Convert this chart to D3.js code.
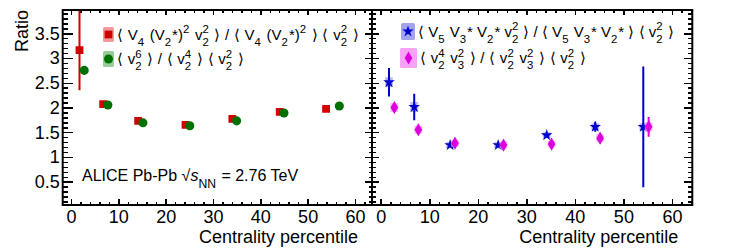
<!DOCTYPE html>
<html lang="en">
<head>
  <meta charset="UTF-8">
  <title>Ratio vs centrality</title>
  <script src="https://cdn.jsdelivr.net/npm/d3@7"></script>
  <style>
    body { margin: 0; background: #fff; }
    svg { font-family: "Liberation Sans", Arial, Helvetica, sans-serif; }
    .axis line { stroke: #000; stroke-width: 1.5; shape-rendering: crispEdges; }
    .axis text { font-size: 18px; fill: #000; }
    .frame { fill: none; stroke: #000; stroke-width: 2; }
  </style>
</head>
<body>
<svg id="chart" width="731" height="250"></svg>
<script>
  // ---- data ----
  var xRed = [1.8, 6.8, 14.2, 24.2, 34.1, 44.1, 53.9]
  var yRed = [3.16, 2.07, 1.73, 1.65, 1.77, 1.91, 1.97]
  var eRed = [0.81, 0.02, 0.02, 0.02, 0.02, 0.03, 0.06]
  var sRed = [0.06, 0.05, 0.05, 0.05, 0.05, 0.05, 0.06]

  var xGreen = [2.8, 7.8, 15.2, 25.1, 35.0, 45.0, 56.7]
  var yGreen = [2.75, 2.05, 1.69, 1.63, 1.73, 1.89, 2.03]
  var eGreen = [0.05, 0.02, 0.02, 0.02, 0.02, 0.02, 0.03]
  var sGreen = [0.06, 0.05, 0.05, 0.05, 0.05, 0.05, 0.05]

  var xBlue = [1.7, 6.9, 14.3, 24.2, 34.2, 44.2, 54.1]
  var yBlue = [2.51, 2.01, 1.24, 1.24, 1.44, 1.61, 1.61]
  var eBlue = [0.29, 0.27, 0.03, 0.03, 0.04, 0.1, 1.22]
  var sBlue = [0.1, 0.1, 0.06, 0.06, 0.06, 0.07, 0.07]

  var xMag = [2.8, 7.75, 15.3, 25.3, 35.2, 45.2, 55.2]
  var yMag = [2.0, 1.55, 1.28, 1.24, 1.26, 1.38, 1.61]
  var eMag = [0.07, 0.04, 0.04, 0.03, 0.05, 0.05, 0.2]
  var sMag = [0.09, 0.08, 0.07, 0.07, 0.07, 0.08, 0.09]

  var yMajor = [0.5, 1, 1.5, 2, 2.5, 3, 3.5]
  var xMajor = [0, 10, 20, 30, 40, 50, 60]

  var legendLeft = [
    '⟨ V_{4} (V_{2}*)^{2} v_{2}^{2} ⟩ / ⟨ V_{4} (V_{2}*)^{2} ⟩ ⟨ v_{2}^{2} ⟩',
    '⟨ v_{2}^{6} ⟩ / ⟨ v_{2}^{4} ⟩ ⟨ v_{2}^{2} ⟩'
  ]
  var legendRight = [
    '⟨ V_{5} V_{3}* V_{2}* v_{2}^{2} ⟩ / ⟨ V_{5} V_{3}* V_{2}* ⟩ ⟨ v_{2}^{2} ⟩',
    '⟨ v_{2}^{4} v_{3}^{2} ⟩ / ⟨ v_{2}^{2} v_{3}^{2} ⟩ ⟨ v_{2}^{2} ⟩'
  ]
  var systemLabel = 'ALICE Pb-Pb √#it{s}_{NN} = 2.76 TeV'

  var svg = d3.select('#chart')
  var frameTop = 10, frameBottom = 205
  var yDomain = [0.03, 3.97]

  var panels = [
    { left: 62.7, right: 372, xDomain: [-1.75, 63.6], inL: -10, inLm: -5, inR: -7, inRm: -3.5, labels: true },
    { left: 372, right: 692.3, xDomain: [-1.8, 64.2], inL: -7, inLm: -3.5, inR: -8, inRm: -4, labels: false }
  ]

  function addAxis(g, axis, tr, values, size, labelled, pad) {
    axis.tickValues(values).tickSizeInner(size).tickSizeOuter(0).tickPadding(pad || 3)
    if (!labelled) axis.tickFormat('')
    else axis.tickFormat(function (d) { return String(d) })
    var a = g.append('g').attr('class', 'axis').attr('transform', 'translate(' + tr + ')').call(axis)
    a.select('.domain').remove()
    return a
  }

  // tiny TLatex-like text: _{..} sub, ^{..} sup (stacked when adjacent), #it{..} italic
  function richText(g, x0, y0, str, size, space) {
    var parts = []
    var re = /([_^])\{([^}]*)\}|#it\{([^}]*)\}/g
    var last = 0, m
    while ((m = re.exec(str)) !== null) {
      if (m.index > last) parts.push({ t: str.slice(last, m.index) })
      if (m[3] !== undefined) parts.push({ t: m[3], it: true })
      else {
        var prev = parts[parts.length - 1]
        if (prev && prev.script && m.index === last && !prev[m[1]]) prev[m[1]] = m[2]
        else { var p = { script: true }; p[m[1]] = m[2]; parts.push(p) }
      }
      last = re.lastIndex
    }
    if (last < str.length) parts.push({ t: str.slice(last) })

    var x = x0, small = size * 0.76
    parts.forEach(function (p) {
      if (!p.script) {
        var t = g.append('text').attr('x', x).attr('y', y0)
          .attr('font-size', size).attr('xml:space', 'preserve')
          .style('white-space', 'pre').style('word-spacing', (space || 0) + 'px')
          .attr('font-style', p.it ? 'italic' : null).text(p.t)
        x += t.node().getComputedTextLength()
      } else {
        var w = 0
        if (p._ !== undefined) {
          var s = g.append('text').attr('x', x).attr('y', y0 + size * 0.42)
            .attr('font-size', small).text(p._)
          w = Math.max(w, s.node().getComputedTextLength())
        }
        if (p['^'] !== undefined) {
          var u = g.append('text').attr('x', x).attr('y', y0 - size * 0.42)
            .attr('font-size', small).text(p['^'])
          w = Math.max(w, u.node().getComputedTextLength())
        }
        x += w + 1
      }
    })
    return x
  }

  function drawSeries(g, x, y, xs, ys, es, ss, col, light, sym, size) {
    var pts = xs.map(function (d, i) { return { x: d, y: ys[i], e: es[i], s: ss[i] } })
    g.selectAll(null).data(pts).enter().append('rect')
      .attr('x', function (d) { return x(d.x - 0.8) })
      .attr('width', function (d) { return x(d.x + 0.8) - x(d.x - 0.8) })
      .attr('y', function (d) { return y(d.y + d.s) })
      .attr('height', function (d) { return y(d.y - d.s) - y(d.y + d.s) })
      .attr('fill', light).attr('opacity', 0.75)
    g.selectAll(null).data(pts).enter().append('line')
      .attr('x1', function (d) { return x(d.x) }).attr('x2', function (d) { return x(d.x) })
      .attr('y1', function (d) { return y(d.y + d.e) }).attr('y2', function (d) { return y(d.y - d.e) })
      .attr('stroke', col).attr('stroke-width', 2)
    g.selectAll(null).data(pts).enter().append('path')
      .attr('transform', function (d) { return 'translate(' + x(d.x) + ',' + y(d.y) + ')' })
      .attr('d', d3.symbol().type(sym).size(size)())
      .attr('fill', col)
  }

  var scales = panels.map(function (p, i) {
    var x = d3.scaleLinear().domain(p.xDomain).range([p.left, p.right])
    var y = d3.scaleLinear().domain(yDomain).range([frameBottom, frameTop])
    var g = svg.append('g')

    svg.append('clipPath').attr('id', 'clip' + i).append('rect')
      .attr('x', p.left).attr('y', frameTop).attr('width', p.right - p.left).attr('height', frameBottom - frameTop)

    var xMinor = d3.range(0, 66, 2).filter(function (d) { return d > p.xDomain[0] && d < p.xDomain[1] })
    var yMinor = d3.range(1, 40).map(function (d) { return d / 10 })

    addAxis(g, d3.axisBottom(x), '0,' + frameBottom, xMajor, -6, true, 5)
    addAxis(g, d3.axisBottom(x), '0,' + frameBottom, xMinor, -3, false)
    addAxis(g, d3.axisTop(x), '0,' + frameTop, xMajor, -5, false)
    addAxis(g, d3.axisTop(x), '0,' + frameTop, xMinor, -3, false)
    addAxis(g, d3.axisLeft(y), p.left + ',0', yMajor, p.inL, p.labels, 3)
    addAxis(g, d3.axisLeft(y), p.left + ',0', yMinor, p.inLm, false)
    addAxis(g, d3.axisRight(y), p.right + ',0', yMajor, p.inR, false)
    addAxis(g, d3.axisRight(y), p.right + ',0', yMinor, p.inRm, false)

    g.append('text').attr('x', p.right - 14).attr('y', 243)
      .attr('text-anchor', 'end').attr('font-size', 18).text('Centrality percentile')

    var data = svg.append('g').attr('clip-path', 'url(#clip' + i + ')')
    return { x: x, y: y, g: g, data: data, p: p }
  })

  var L = scales[0], R = scales[1]
  drawSeries(L.data, L.x, L.y, xRed, yRed, eRed, sRed, '#d00000', '#f49a9a', d3.symbolSquare, 60)
  drawSeries(L.data, L.x, L.y, xGreen, yGreen, eGreen, sGreen, '#007000', '#9acb9a', d3.symbolCircle, 64)
  drawSeries(R.data, R.x, R.y, xBlue, yBlue, eBlue, sBlue, '#0000cc', '#a3a3f2', d3.symbolStar, 42)
  drawSeries(R.data, R.x, R.y, xMag, yMag, eMag, sMag, '#dd00dd', '#f6a3f6', d3.symbolDiamond, 50)

  scales.forEach(function (s) {
    svg.append('rect').attr('class', 'frame')
      .attr('x', s.p.left).attr('y', frameTop)
      .attr('width', s.p.right - s.p.left).attr('height', frameBottom - frameTop)
  })

  // y title
  svg.append('text').attr('transform', 'translate(28,10) rotate(-90)')
    .attr('text-anchor', 'end').attr('font-size', 18).text('Ratio')

  // legends
  var leg = svg.append('g')
  function legendEntry(bx, by, bw, bh, col, light, sym, size, label, space) {
    leg.append('rect').attr('x', bx).attr('y', by).attr('width', bw).attr('height', bh)
      .attr('fill', light).attr('rx', 1.5)
    leg.append('path').attr('transform', 'translate(' + (bx + bw / 2) + ',' + (by + bh / 2) + ')')
      .attr('d', d3.symbol().type(sym).size(size)()).attr('fill', col)
    return richText(leg, bx + bw + 3, by + bh / 2 + 5, label, 15, space)
  }
  legendEntry(103, 27, 11, 15, '#d00000', '#f49a9a', d3.symbolSquare, 60, legendLeft[0], 0.5)
  legendEntry(103, 51, 11, 16, '#007000', '#9acb9a', d3.symbolCircle, 64, legendLeft[1], 0.5)
  legendEntry(401, 23, 14, 17, '#0000cc', '#a3a3f2', d3.symbolStar, 42, legendRight[0], 0)
  legendEntry(400, 48, 17, 20, '#dd00dd', '#f6a3f6', d3.symbolDiamond, 50, legendRight[1], 0.5)

  richText(svg.append('g'), 82, 181, systemLabel, 16)
</script>
</body>
</html>
